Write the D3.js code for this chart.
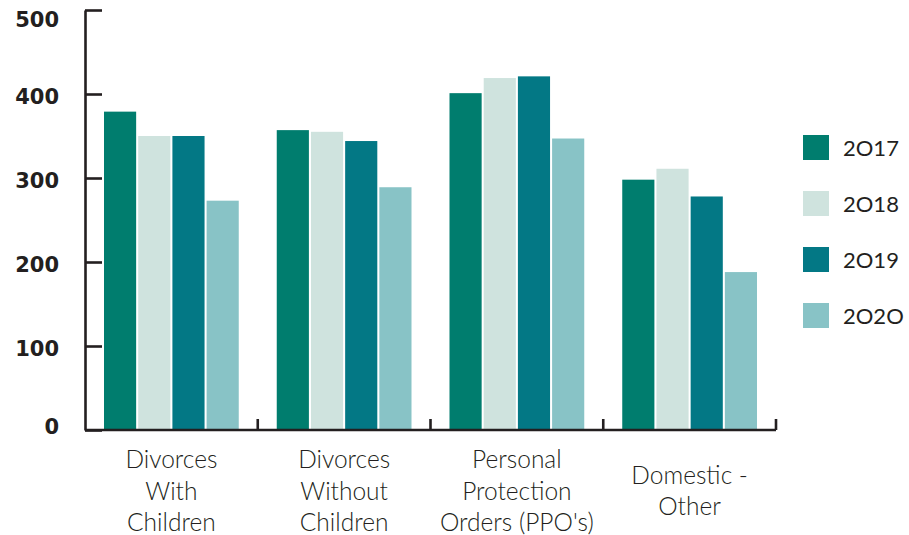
<!DOCTYPE html>
<html>
<head>
<meta charset="utf-8">
<script src="https://cdn.jsdelivr.net/npm/d3@7"></script>
<style>
  html, body { margin: 0; padding: 0; background: #fff; }
  svg { display: block; }
</style>
</head>
<body>
<svg id="chart" width="909" height="535"></svg>
<script>
// Case filings by type and year
const categories = [
  "Divorces With Children",
  "Divorces Without Children",
  "Personal Protection Orders (PPO's)",
  "Domestic - Other"
];
const categoryLines = [
  ["Divorces", "With", "Children"],
  ["Divorces", "Without", "Children"],
  ["Personal", "Protection", "Orders (PPO's)"],
  ["Domestic -", "Other"]
];
const years = ["2017", "2018", "2019", "2020"];
const values2017 = [379, 357, 401, 298];
const values2018 = [350, 355, 419, 311];
const values2019 = [350, 344, 421, 278];
const values2020 = [273, 289, 347, 188];
const yTicks = [0, 100, 200, 300, 400, 500];
const yearLabels = ["2O17", "2O18", "2O19", "2O2O"];

const seriesValues = [values2017, values2018, values2019, values2020];
const colors = ["#007d6e", "#cfe3de", "#037885", "#88c3c6"];
const ink = "#231f20";

const svg = d3.select("#chart");

const x = d3.scaleBand().domain(categories).range([85, 776]).padding(0);
const xInner = d3.scaleBand().domain(years)
  .range([19, x.bandwidth() - 19]).paddingInner(0.06).paddingOuter(0);
const y = d3.scaleLinear().domain([0, 500]).range([430, 10]);
const color = d3.scaleOrdinal().domain(years).range(colors);

// Bars
const groups = svg.append("g").selectAll("g")
  .data(categories)
  .join("g")
  .attr("transform", d => `translate(${x(d)},0)`);

groups.selectAll("rect")
  .data((d, i) => years.map((yr, j) => ({ yr, v: seriesValues[j][i] })))
  .join("rect")
  .attr("x", d => xInner(d.yr))
  .attr("y", d => y(d.v))
  .attr("width", xInner.bandwidth())
  .attr("height", d => y(0) - y(d.v))
  .attr("fill", d => color(d.yr));

// Y axis with inward ticks
const yAxis = svg.append("g")
  .attr("transform", "translate(85,0)")
  .call(d3.axisLeft(y).tickValues(yTicks).tickSize(-17).tickSizeOuter(0).tickFormat(""));
yAxis.select(".domain").attr("stroke", ink).attr("stroke-width", 2.6);
yAxis.selectAll(".tick line").attr("stroke", ink).attr("stroke-width", 2.6);

// Y tick labels, kept inside the drawing area
svg.append("g").selectAll("text")
  .data(yTicks)
  .join("text")
  .attr("x", 59)
  .attr("y", d => Math.min(Math.max(y(d) + 3, 20), 427))
  .attr("text-anchor", "end")
  .attr("dominant-baseline", "central")
  .attr("font-family", "DejaVu Sans")
  .attr("font-weight", "bold")
  .attr("font-size", 21)
  .attr("fill", ink)
  .text(d => d);

// X axis line with upward ticks at the group boundaries
const bounds = categories.map(c => x(c)).concat([x.range()[1]]);
const xAxis = svg.append("g");
xAxis.append("line")
  .attr("x1", x.range()[0]).attr("x2", x.range()[1])
  .attr("y1", y(0)).attr("y2", y(0))
  .attr("stroke", ink).attr("stroke-width", 2.6);
xAxis.selectAll("line.tick")
  .data(bounds.slice(1))
  .join("line")
  .attr("class", "tick")
  .attr("x1", d => d).attr("x2", d => d)
  .attr("y1", y(0)).attr("y2", y(0) - 11)
  .attr("stroke", ink).attr("stroke-width", 2.6);

// Category labels, vertically centred as blocks
const lineH = 31.5;
const labelCenter = 490;
svg.append("g").selectAll("text")
  .data(categories)
  .join("text")
  .attr("text-anchor", "middle")
  .attr("font-family", "Lato")
  .attr("font-weight", 300)
  .attr("font-size", 24.5)
  .attr("fill", ink)
  .each(function (d, i) {
    const lines = categoryLines[i];
    const top = labelCenter - (lines.length - 1) * lineH / 2;
    d3.select(this).selectAll("tspan")
      .data(lines)
      .join("tspan")
      .attr("x", x(d) + x.bandwidth() / 2)
      .attr("y", (l, k) => top + k * lineH)
      .attr("dominant-baseline", "central")
      .text(l => l);
  });

// Legend
const legend = svg.append("g").selectAll("g")
  .data(years)
  .join("g")
  .attr("transform", (d, i) => `translate(803,${135 + i * 56})`);
legend.append("rect")
  .attr("width", 26).attr("height", 25)
  .attr("fill", d => color(d));
legend.append("text")
  .attr("x", 40).attr("y", 12.5)
  .attr("dominant-baseline", "central")
  .attr("font-family", "Lato")
  .attr("font-size", 22)
  .attr("fill", ink)
  .text((d, i) => yearLabels[i]);
</script>
</body>
</html>
